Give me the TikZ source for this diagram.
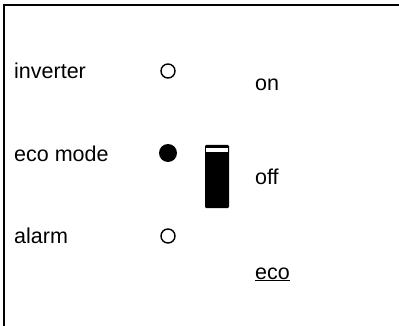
\documentclass[tikz,border=0pt]{standalone}
\usepackage{fontspec}
\setmainfont{Liberation Sans}
\begin{document}
\begin{tikzpicture}[x=1pt,y=-1pt,
  lbl/.style={anchor=base west,inner sep=0pt,font=\fontsize{21.5}{25}\selectfont},
  led/.style={circle,draw=black,line width=1.4pt,minimum size=14pt,inner sep=0pt},
  ledon/.style={circle,fill=black,minimum size=18pt,inner sep=0pt}]
\fill[white] (0,0) rectangle (399,326);
\useasboundingbox (0,0) rectangle (399,326);
\draw[line width=2pt] (4,326) -- (4,5) -- (399,5);
\node[lbl] (inv) at (14,79) {inverter};
\node[lbl] (eco) at (14,161) {eco mode};
\node[lbl] (alm) at (14,243) {alarm};
\node[led] (l1) at (168,71) {};
\node[ledon] (l2) at (168,153) {};
\node[led] (l3) at (168,236) {};
\fill[rounded corners=1.2pt] (205,145) rectangle (229,208);
\fill[white] (206.3,148.5) rectangle (227.7,151.8);
\node[lbl] (on) at (255,91) {on};
\node[lbl] (off) at (255,185) {off};
\node[lbl] (ec) at (255,279) {\underline{eco}};
\end{tikzpicture}
\end{document}
